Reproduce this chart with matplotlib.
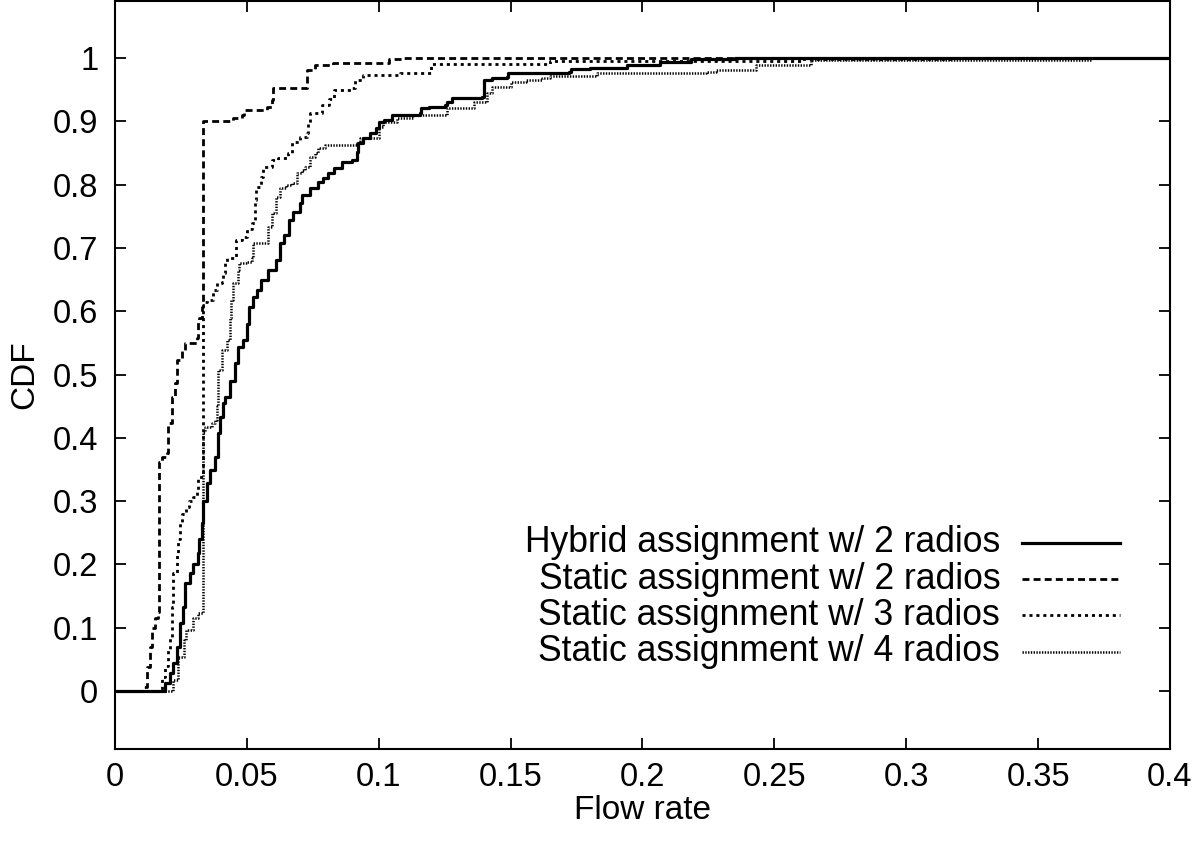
import matplotlib
matplotlib.use("Agg")
import matplotlib.pyplot as plt

plt.rcParams['font.family'] = ['Liberation Sans', 'DejaVu Sans']
plt.rcParams['lines.scale_dashes'] = False

# step CDFs: (flow rate where the CDF jumps, CDF value after the jump)
hybrid2_x = [0.0, 0.017, 0.019, 0.021, 0.022, 0.0235, 0.0246, 0.0258, 0.0265, 0.0284, 0.0296,
             0.0316, 0.032, 0.033, 0.0333, 0.035, 0.036, 0.038, 0.039, 0.0398, 0.041, 0.0417,
             0.0436, 0.0455, 0.0466, 0.0485, 0.05, 0.051, 0.0523, 0.054, 0.0555, 0.058, 0.061,
             0.0625, 0.064, 0.066, 0.0675, 0.07, 0.071, 0.074, 0.077, 0.079, 0.0807, 0.083,
             0.086, 0.09, 0.0917, 0.092, 0.094, 0.0966, 0.099, 0.1, 0.102, 0.105, 0.1155, 0.116,
             0.119, 0.125, 0.126, 0.1277, 0.139, 0.14, 0.143, 0.1485, 0.149, 0.172, 0.173, 0.18,
             0.194, 0.2065, 0.2185, 0.235, 0.4]
hybrid2_y = [0.0, 0.0, 0.013, 0.028, 0.044, 0.07, 0.107, 0.133, 0.17, 0.186, 0.2,
             0.218, 0.24, 0.265, 0.3, 0.328, 0.35, 0.37, 0.407, 0.433, 0.455, 0.464,
             0.49, 0.518, 0.543, 0.555, 0.58, 0.607, 0.622, 0.634, 0.649, 0.665, 0.681,
             0.708, 0.72, 0.744, 0.757, 0.771, 0.784, 0.795, 0.804, 0.81, 0.818, 0.826,
             0.836, 0.839, 0.852, 0.866, 0.874, 0.881, 0.889, 0.899, 0.902, 0.91, 0.913, 0.921,
             0.923, 0.926, 0.93, 0.937, 0.938, 0.965, 0.968, 0.97, 0.976, 0.978, 0.982, 0.984,
             0.989, 0.994, 0.998, 1.0, 1.0]

static2_x = [0.0, 0.0106, 0.012, 0.0133, 0.014, 0.015, 0.0163, 0.0167, 0.018, 0.0197, 0.02,
             0.0216, 0.0227, 0.0235, 0.0254, 0.0265, 0.031, 0.0316, 0.032, 0.033, 0.0332,
             0.0447, 0.048, 0.049, 0.0576, 0.0595, 0.06, 0.0727, 0.0758, 0.0826, 0.104, 0.109, 0.27]
static2_y = [0.0, 0.006, 0.038, 0.07, 0.1, 0.115, 0.125, 0.362, 0.37, 0.376, 0.423,
             0.464, 0.487, 0.523, 0.539, 0.55, 0.558, 0.586, 0.59, 0.607, 0.9,
             0.905, 0.91, 0.918, 0.923, 0.934, 0.953, 0.981, 0.989, 0.992, 0.998, 1.0, 1.0]

static3_x = [0.0, 0.017, 0.0178, 0.019, 0.02, 0.021, 0.0216, 0.022, 0.0235, 0.024, 0.0246,
             0.0254, 0.027, 0.028, 0.0296, 0.031, 0.0316, 0.0333, 0.034, 0.035, 0.037, 0.0386,
             0.0405, 0.041, 0.0417, 0.0424, 0.046, 0.048, 0.05, 0.052, 0.053, 0.0536, 0.0555,
             0.056, 0.0595, 0.062, 0.0656, 0.067, 0.07, 0.0727, 0.073, 0.074, 0.0784, 0.081,
             0.083, 0.09, 0.091, 0.094, 0.108, 0.12, 0.165, 0.26, 0.317]
static3_y = [0.0, 0.0, 0.022, 0.04, 0.065, 0.085, 0.133, 0.186, 0.218, 0.24, 0.265,
             0.28, 0.29, 0.3, 0.306, 0.317, 0.338, 0.61, 0.615, 0.618, 0.634, 0.645,
             0.646, 0.66, 0.676, 0.684, 0.712, 0.717, 0.73, 0.739, 0.776, 0.796, 0.812,
             0.828, 0.839, 0.842, 0.85, 0.867, 0.875, 0.881, 0.897, 0.913, 0.926, 0.935,
             0.949, 0.953, 0.965, 0.973, 0.976, 0.99, 0.995, 0.998, 0.998]

static4_x = [0.0, 0.0195, 0.022, 0.024, 0.026, 0.027, 0.0296, 0.0316, 0.0333, 0.034, 0.0367,
             0.038, 0.0386, 0.039, 0.0405, 0.0424, 0.0436, 0.044, 0.0447, 0.0466, 0.047, 0.05,
             0.052, 0.0523, 0.058, 0.0595, 0.061, 0.0625, 0.065, 0.067, 0.069, 0.071, 0.072,
             0.074, 0.0758, 0.077, 0.0795, 0.0917, 0.093, 0.1, 0.1015, 0.107, 0.113, 0.126,
             0.136, 0.141, 0.143, 0.15, 0.156, 0.162, 0.165, 0.1826, 0.224, 0.228, 0.243,
             0.264, 0.37]
static4_y = [0.0, 0.0, 0.017, 0.054, 0.08, 0.096, 0.115, 0.123, 0.41, 0.417, 0.423,
             0.428, 0.45, 0.507, 0.539, 0.555, 0.59, 0.618, 0.645, 0.665, 0.676, 0.678,
             0.684, 0.708, 0.733, 0.755, 0.78, 0.795, 0.8, 0.802, 0.818, 0.823, 0.828,
             0.844, 0.85, 0.858, 0.863, 0.866, 0.874, 0.891, 0.899, 0.905, 0.91, 0.921,
             0.93, 0.945, 0.954, 0.962, 0.965, 0.968, 0.971, 0.976, 0.978, 0.981, 0.989,
             0.997, 0.997]

labels = ['Hybrid assignment w/ 2 radios', 'Static assignment w/ 2 radios',
          'Static assignment w/ 3 radios', 'Static assignment w/ 4 radios']
xticks = [0, 0.05, 0.1, 0.15, 0.2, 0.25, 0.3, 0.35, 0.4]
xtick_labels = ['0', '0.05', '0.1', '0.15', '0.2', '0.25', '0.3', '0.35', '0.4']
yticks = [0, 0.1, 0.2, 0.3, 0.4, 0.5, 0.6, 0.7, 0.8, 0.9, 1.0]
ytick_labels = ['0', '0.1', '0.2', '0.3', '0.4', '0.5', '0.6', '0.7', '0.8', '0.9', '1']

styles = [
    dict(color='black', lw=2.3, linestyle='-'),
    dict(color='black', lw=2.0, dashes=(5, 3)),
    dict(color='black', lw=2.0, dashes=(2.2, 2.8)),
    dict(color='black', lw=1.8, dashes=(1.0, 1.0)),
]

fig = plt.figure(figsize=(12, 8.48), dpi=100)
ax = fig.add_axes([0.0958, 0.1167, 0.8792, 0.882])

series = [(hybrid2_x, hybrid2_y), (static2_x, static2_y),
          (static3_x, static3_y), (static4_x, static4_y)]
for (xs, ys), st in zip(series, styles):
    ax.plot(xs, ys, drawstyle='steps-post', **st)

ax.set_xlim(0, 0.4)
ax.set_ylim(-0.0916, 1.09)
ax.set_xticks(xticks)
ax.set_xticklabels(xtick_labels)
ax.set_yticks(yticks)
ax.set_yticklabels(ytick_labels)
ax.tick_params(direction='in', length=8, width=1.3, top=True, right=True,
               labelsize=23.5)
ax.tick_params(axis='x', pad=9)
ax.tick_params(axis='y', pad=12)
for sp in ax.spines.values():
    sp.set_linewidth(1.5)

ax.set_xlabel('Flow rate', fontsize=24, labelpad=2)
ax.set_ylabel('CDF', fontsize=24, labelpad=9)

# gnuplot-style key: right-aligned text with sample line on the right
key_y = [0.276, 0.227, 0.179, 0.130]
for lab, st, ky in zip(labels, styles, key_y):
    ax.text(0.839, ky, lab, transform=ax.transAxes, ha='right', va='center', fontsize=25.6)
    ax.plot([0.86, 0.953], [ky, ky], transform=ax.transAxes, **st)

fig.savefig('out.png', dpi=100)
